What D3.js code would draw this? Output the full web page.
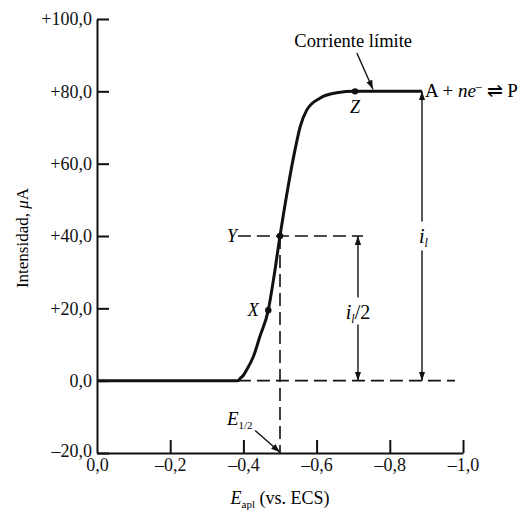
<!DOCTYPE html>
<html>
<head>
<meta charset="utf-8">
<script src="https://cdn.jsdelivr.net/npm/d3@7"></script>
<style>
  body { margin: 0; background: #fff; }
  svg { font-family: "Liberation Serif", "Times New Roman", serif; }
  .axis path, .axis line { stroke: #111; stroke-width: 2; }
  .axis text { font-size: 18px; fill: #111; font-family: "Liberation Serif", serif; }
</style>
</head>
<body>
<svg id="chart" width="526" height="513"></svg>
<script>
// Data
const xTicks = [0, -0.2, -0.4, -0.6, -0.8, -1.0];
const yTicks = [-20, 0, 20, 40, 60, 80, 100];
const potential = [0, -0.385, -0.391, -0.40, -0.409, -0.427, -0.445, -0.468, -0.482, -0.50, -0.52, -0.541, -0.555, -0.573, -0.609, -0.655, -0.705, -0.888];
const current = [0, 0, 0.6, 1.5, 3.0, 6.6, 12.2, 19.5, 27.8, 40, 52.4, 63.8, 70.2, 74.8, 78.1, 79.6, 80, 80];
const markedPoints = [
  { name: "X", e: -0.468, i: 19.5, dx: -15, dy: 6 },
  { name: "Y", e: -0.50, i: 40, dx: -48, dy: 6 },
  { name: "Z", e: -0.705, i: 80, dx: 0, dy: 22 }
];
const halfWave = -0.50;
const limitCurrent = 80;

const svg = d3.select("#chart");
const x = d3.scaleLinear().domain([0, -1]).range([97, 463]);
const y = d3.scaleLinear().domain([-20, 100]).range([453, 19]);

const fmt = d => (d > 0 ? "+" : d < 0 ? "\u2013" : "") + Math.abs(d).toFixed(1).replace(".", ",");

// Arrowhead marker
const defs = svg.append("defs");
defs.append("marker")
  .attr("id", "arrow")
  .attr("viewBox", "0 0 10 10")
  .attr("refX", 10).attr("refY", 5)
  .attr("markerWidth", 9).attr("markerHeight", 9)
  .attr("markerUnits", "userSpaceOnUse")
  .attr("orient", "auto-start-reverse")
  .append("path")
  .attr("d", "M0,1.5 L10,5 L0,8.5 Z")
  .attr("fill", "#111");

// Axes
svg.append("g")
  .attr("class", "axis")
  .attr("transform", `translate(${x(0)},0)`)
  .call(d3.axisLeft(y).tickValues(yTicks).tickFormat(fmt).tickSizeInner(-12).tickSizeOuter(0).tickPadding(5))
  .call(g => g.selectAll(".tick").filter(d => d === -20).select("text").attr("dy", "0.2em"));

svg.append("g")
  .attr("class", "axis")
  .attr("transform", `translate(0,${y(-20)})`)
  .call(d3.axisBottom(x).tickValues(xTicks).tickFormat(fmt).tickSizeInner(-13).tickSizeOuter(0).tickPadding(5))
  .call(g => g.selectAll(".tick").filter(d => d === 0).select("line").remove());

// Dashed guides
const dash = svg.append("g")
  .attr("stroke", "#111").attr("stroke-width", 1.6).attr("stroke-dasharray", "13,6").attr("fill", "none");
dash.append("line")
  .attr("x1", x(-0.385)).attr("x2", x(-0.978))
  .attr("y1", y(0)).attr("y2", y(0));
dash.append("line")
  .attr("x1", x(-0.385)).attr("x2", x(-0.727))
  .attr("y1", y(40)).attr("y2", y(40));
dash.append("line")
  .attr("x1", x(halfWave)).attr("x2", x(halfWave))
  .attr("y1", y(40)).attr("y2", y(-20));

// Polarographic wave
const line = d3.line()
  .x((d, k) => x(potential[k]))
  .y(d => y(d))
  .curve(d3.curveMonotoneX);
svg.append("path")
  .datum(current)
  .attr("d", line)
  .attr("fill", "none")
  .attr("stroke", "#111")
  .attr("stroke-width", 3);

// Points X, Y, Z
svg.selectAll("circle.pt")
  .data(markedPoints)
  .join("circle")
  .attr("class", "pt")
  .attr("cx", d => x(d.e)).attr("cy", d => y(d.i))
  .attr("r", 3.2).attr("fill", "#111");

svg.selectAll("text.pt")
  .data(markedPoints)
  .join("text")
  .attr("class", "pt")
  .attr("x", d => x(d.e) + d.dx).attr("y", d => y(d.i) + d.dy)
  .attr("text-anchor", "middle")
  .attr("font-size", 18).attr("font-style", "italic")
  .text(d => d.name);

// Double arrows i_l and i_l/2
const arrows = svg.append("g").attr("stroke", "#111").attr("stroke-width", 1.4);
function doubleArrow(e, top, bottom, gapTop, gapBottom) {
  arrows.append("line")
    .attr("x1", x(e)).attr("x2", x(e))
    .attr("y1", y(gapTop)).attr("y2", y(top))
    .attr("marker-end", "url(#arrow)");
  arrows.append("line")
    .attr("x1", x(e)).attr("x2", x(e))
    .attr("y1", y(gapBottom)).attr("y2", y(bottom))
    .attr("marker-end", "url(#arrow)");
}
doubleArrow(-0.888, limitCurrent, 0, 44, 36);
doubleArrow(-0.713, 40, 0, 23, 15.5);

const il = svg.append("text")
  .attr("x", x(-0.888) - 3).attr("y", y(38))
  .attr("font-size", 20).attr("font-style", "italic");
il.append("tspan").text("i");
il.append("tspan").attr("font-size", 12).attr("dy", 4).text("l");

const il2 = svg.append("text")
  .attr("x", x(-0.713)).attr("y", y(17))
  .attr("text-anchor", "middle")
  .attr("font-size", 20);
il2.append("tspan").attr("font-style", "italic").text("i");
il2.append("tspan").attr("font-size", 12).attr("font-style", "italic").attr("dy", 4).text("l");
il2.append("tspan").attr("dy", -4).text("/2");

// Reaction label
const rx = svg.append("text")
  .attr("x", x(-0.888) + 3).attr("y", y(78.5))
  .attr("font-size", 19);
rx.append("tspan").text("A + ");
rx.append("tspan").attr("font-style", "italic").text("ne");
rx.append("tspan").attr("font-size", 12).attr("dy", -7).text("\u2013");
rx.append("tspan").attr("dy", 7).text(" \u21CC P");

// Corriente límite
svg.append("text")
  .attr("x", x(-0.70)).attr("y", y(92.3))
  .attr("text-anchor", "middle")
  .attr("font-size", 18.5)
  .text("Corriente límite");
svg.append("line")
  .attr("x1", x(-0.710)).attr("y1", y(90.6))
  .attr("x2", x(-0.754)).attr("y2", y(80.6))
  .attr("stroke", "#111").attr("stroke-width", 1.4)
  .attr("marker-end", "url(#arrow)");

// E1/2 label
const eh = svg.append("text")
  .attr("x", x(-0.355)).attr("y", y(-12.3))
  .attr("font-size", 19);
eh.append("tspan").attr("font-style", "italic").text("E");
eh.append("tspan").attr("font-size", 11).attr("dy", 4).text("1/2");
svg.append("line")
  .attr("x1", x(-0.432)).attr("y1", y(-13.8))
  .attr("x2", x(halfWave)).attr("y2", y(-19.8))
  .attr("stroke", "#111").attr("stroke-width", 1.4)
  .attr("marker-end", "url(#arrow)");

// Axis titles
const xt = svg.append("text")
  .attr("x", 280).attr("y", 504)
  .attr("text-anchor", "middle")
  .attr("font-size", 18);
xt.append("tspan").attr("font-style", "italic").text("E");
xt.append("tspan").attr("font-size", 11).attr("dy", 4).text("apl");
xt.append("tspan").attr("dy", -4).text(" (vs. ECS)");

const yt = svg.append("text")
  .attr("transform", "translate(28,238) rotate(-90)")
  .attr("text-anchor", "middle")
  .attr("font-size", 17);
yt.append("tspan").text("Intensidad, ");
yt.append("tspan").attr("font-style", "italic").text("\u03BC");
yt.append("tspan").text("A");
</script>
</body>
</html>
